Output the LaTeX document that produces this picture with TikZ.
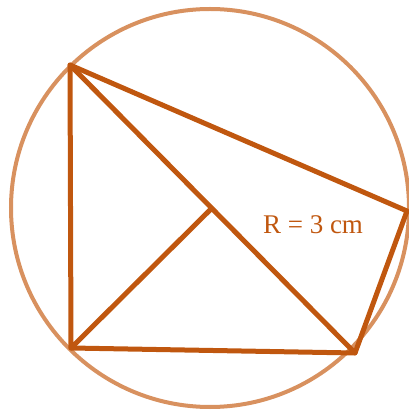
\documentclass[tikz,border=0pt]{standalone}
\usepackage{fontspec}
\setmainfont{Liberation Serif}
\definecolor{cCircle}{HTML}{D8915F}
\definecolor{cLine}{HTML}{C0570F}
\usetikzlibrary{calc}
\tikzset{
  circ-line/.style={draw=cCircle,line width=4pt},
  edge-line/.style={draw=cLine,line width=5pt,line cap=round,line join=round},
  label-text/.style={text=cLine,font=\fontsize{27}{30}\selectfont},
}
\begin{document}
\begin{tikzpicture}[x=1pt,y=1pt]
  \useasboundingbox (0,0) rectangle (408,412);
  % circle and vertices
  \coordinate (O) at (210,204);
  \coordinate (A) at (70,347);
  \coordinate (B) at (71,64);
  \coordinate (C) at (355,59);
  \coordinate (D) at (407,201);
  \coordinate (M) at (211,203);
  \draw[circ-line] (O) circle (199);
  % quadrilateral and diagonals
  \draw[edge-line] (A) -- (B) -- (C) -- (D) -- cycle;
  \draw[edge-line] (A) -- (C);
  \draw[edge-line] (B) -- (M);
  \node[label-text] (lbl) at (313,187) {R = 3 cm};
\end{tikzpicture}
\end{document}
